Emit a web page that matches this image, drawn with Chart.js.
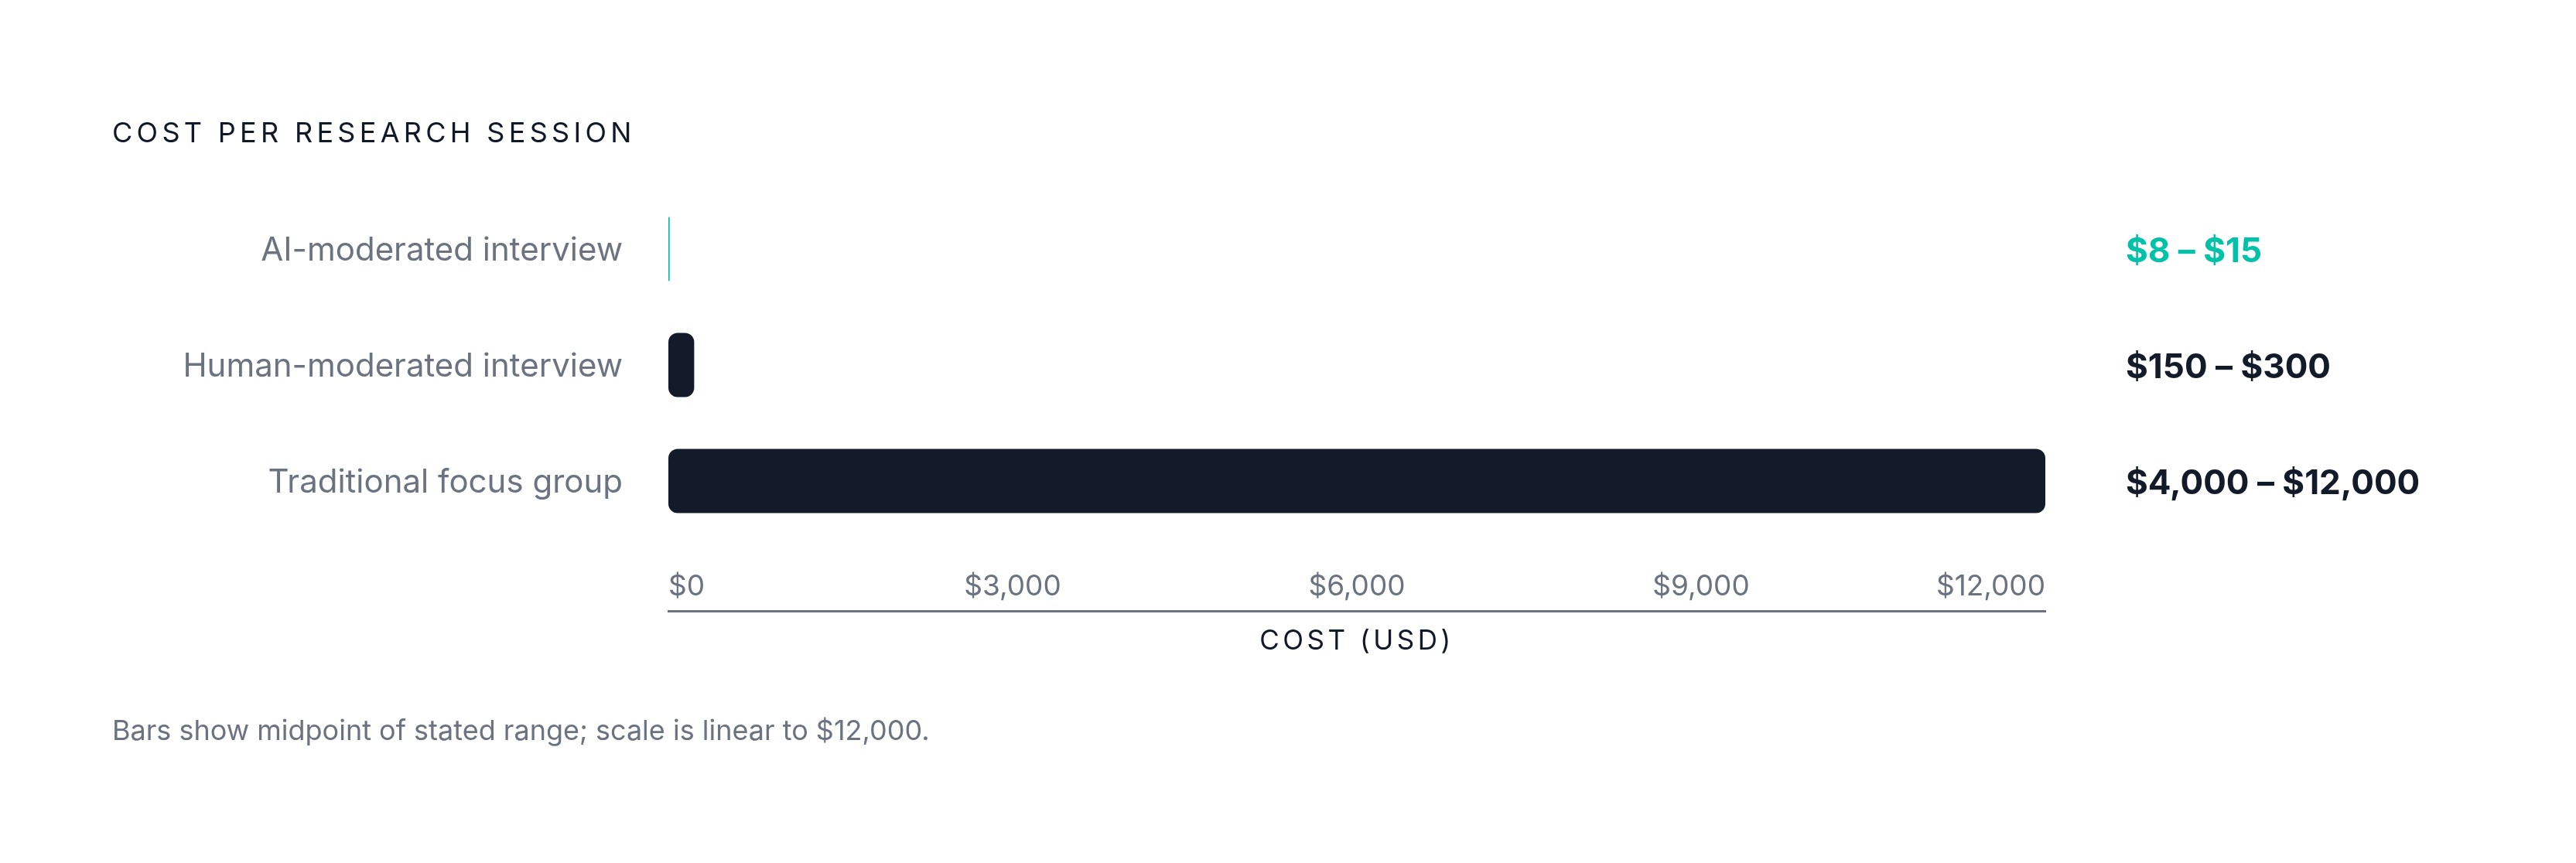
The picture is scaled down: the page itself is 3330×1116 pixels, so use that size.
<!DOCTYPE html>
<html>
<head>
<meta charset="utf-8">
<script src="https://cdn.jsdelivr.net/npm/chart.js@4.4.1/dist/chart.umd.min.js"></script>
<style>
  html, body { margin: 0; padding: 0; background: #ffffff; }
  #wrap { position: relative; width: 3330px; height: 1116px; font-family: Inter, sans-serif; }
  #title {
    position: absolute; left: 145px; top: 151px;
    font-size: 36px; line-height: 40px; letter-spacing: 5.3px;
    color: #111827; font-weight: 400;
  }
  #note {
    position: absolute; left: 145px; top: 924px;
    font-size: 36px; line-height: 40px; color: #6b7280;
  }
  #chartBox { position: absolute; left: 0; top: 0; width: 3330px; height: 1116px; }
</style>
</head>
<body>
<div id="wrap">
  <div id="chartBox"><canvas id="costChart"></canvas></div>
  <div id="title">COST PER RESEARCH SESSION</div>
  <div id="note">Bars show midpoint of stated range; scale is linear to $12,000.</div>
</div>
<script>
const categories = ['AI-moderated interview', 'Human-moderated interview', 'Traditional focus group'];
const barValues = [11.5, 225, 12000];
const rangeLabels = ['$8 – $15', '$150 – $300', '$4,000 – $12,000'];
const xTicks = [0, 3000, 6000, 9000, 12000];

const TEAL = '#00c2a8';
const INK = '#131a2a';
const GRAY = '#6b7280';

Chart.defaults.font.family = 'Inter';

const ctx = document.getElementById('costChart').getContext('2d');
const chart = new Chart(ctx, {
    type: 'bar',
    data: {
        labels: categories,
        datasets: [{
            data: barValues,
            backgroundColor: [TEAL, INK, INK],
            borderRadius: 12,
            borderSkipped: false,
            categoryPercentage: 1,
            barPercentage: 0.553
        }]
    },
    options: {
        indexAxis: 'y',
        responsive: true,
        maintainAspectRatio: false,
        animation: false,
        layout: { padding: { top: 247, bottom: 266, left: 0, right: 0 } },
        plugins: {
            legend: { display: false },
            tooltip: { enabled: false }
        },
        scales: {
            y: {
                position: 'left',
                grid: { display: false, drawTicks: false },
                border: { display: false },
                ticks: { color: GRAY, font: { size: 42 }, padding: 59, labelOffset: 2 },
                afterFit: (scale) => { scale.width = 864; }
            },
            yRight: {
                type: 'category',
                position: 'right',
                labels: rangeLabels,
                offset: true,
                grid: { display: false, drawTicks: false },
                border: { display: false },
                ticks: {
                    color: (c) => c.index === 0 ? TEAL : INK,
                    font: { size: 44, weight: '700' },
                    padding: 104,
                    labelOffset: 4
                },
                afterFit: (scale) => { scale.width = 686; }
            },
            x: {
                position: 'bottom',
                min: xTicks[0],
                max: xTicks[xTicks.length - 1],
                grid: { display: false, drawTicks: false },
                border: { display: false },
                afterBuildTicks: (scale) => { scale.ticks = xTicks.map(v => ({ value: v })); },
                ticks: {
                    color: GRAY,
                    font: { size: 37 },
                    padding: 40,
                    align: 'inner',
                    callback: (v) => '$' + Number(v).toLocaleString('en-US')
                },
                afterFit: (scale) => { scale.height = 93; }
            },
            xLine: {
                type: 'linear',
                position: 'bottom',
                min: xTicks[0],
                max: xTicks[xTicks.length - 1],
                grid: { display: false, drawTicks: false },
                border: { display: true, color: GRAY, width: 3 },
                ticks: { display: false },
                title: {
                    display: true,
                    text: 'COST (USD)',
                    color: '#111827',
                    font: { size: 35 },
                    padding: 0
                },
                afterFit: (scale) => { scale.height = 60; }
            }
        }
    }
});

// spaced capitals for the axis title, like the page heading
const lineAxis = chart.scales.xLine;
const baseDrawTitle = lineAxis.drawTitle;
lineAxis.drawTitle = function () {
    this.ctx.save();
    this.ctx.letterSpacing = '4.5px';
    baseDrawTitle.call(this);
    this.ctx.restore();
};
chart.draw();
</script>
</body>
</html>
